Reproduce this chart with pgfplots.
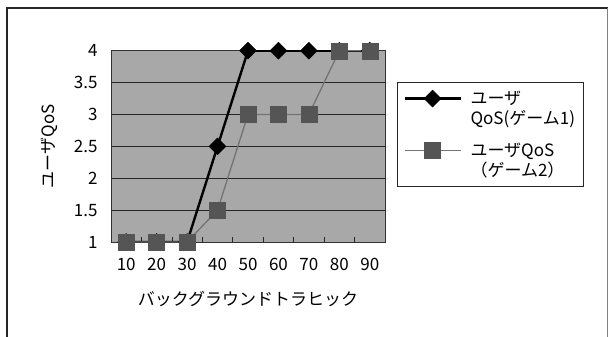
\documentclass[border=0pt]{standalone}
\usepackage{pgfplots}
\pgfplotsset{compat=1.18}
\usepackage{fontspec}
\setmainfont{Noto Sans CJK JP}
\definecolor{bgc}{RGB}{168,168,168}
\definecolor{sqc}{RGB}{85,85,85}
\begin{document}
\begin{tikzpicture}[x=1bp,y=1bp]
\useasboundingbox (0,0) rectangle (609,336);
\draw[line width=1.2bp, black!85] (7,-3) -- (7,328) -- (607.5,328);
\draw[line width=0.6bp, black!50] (607.5,328) -- (607.5,-3);
\begin{axis}[
  at={(111bp,94bp)}, anchor=south west,
  width=274bp, height=191.3bp, scale only axis,
  xmin=-0.5, xmax=8.5, ymin=1, ymax=4,
  xtick={0,1,...,8},
  xticklabels={10,20,30,40,50,60,70,80,90},
  minor xtick={-0.5,0.5,...,8.5},
  ytick={1,1.5,...,4},
  tick pos=left,
  major tick length=0pt,
  minor tick length=5bp,
  tick style={black!85, line width=0.6bp},
  xtick align=inside,
  ymajorgrids,
  grid style={black!85, line width=0.6bp},
  axis line style={black!80, line width=0.6bp},
  axis background/.style={fill=bgc},
  /pgf/number format/assume math mode=true,
  tick label style={font=\fontsize{17bp}{20bp}\selectfont},
  yticklabel style={xshift=-10bp},
  xticklabel style={yshift=-13bp},
  xlabel={バックグラウンドトラヒック},
  ylabel={ユーザQoS},
  every axis x label/.style={at={(axis description cs:0.5,-0.3)}, anchor=center, font=\fontsize{17bp}{20bp}\selectfont},
  every axis y label/.style={at={(axis description cs:-0.225,0.5)}, anchor=center, rotate=90, font=\fontsize{17bp}{20bp}\selectfont},
  legend cell align=left,
  legend style={at={(1.044,0.835)}, anchor=north west,
    draw=black!85, line width=0.6bp, fill=white,
    font=\fontsize{17bp}{20bp}\selectfont,
    cells={align=left}, row sep=12bp, inner xsep=6bp, inner ysep=6bp},
  legend image code/.code={
    \path[draw=none,fill=none] (0bp,-20bp) rectangle (64bp,20bp);
    \draw[mark repeat=2,mark phase=2,#1] plot coordinates {(0bp,10bp)(28bp,10bp)(56bp,10bp)};},
]
\addplot[black, line width=2.4bp, mark=square*, mark size=6bp,
  mark options={rotate=45, fill=black, solid, line width=0.4bp}]
  coordinates {(0,1) (1,1) (2,1) (3,2.5) (4,4) (5,4) (6,4) (7,4) (8,4)};
\addlegendentry{ユーザ\\QoS(ゲーム1)}
\addplot[black!55, line width=1.3bp, mark=square*, mark size=8bp,
  mark options={fill=sqc, draw=sqc, solid, line width=0.4bp}]
  coordinates {(0,1) (1,1) (2,1) (3,1.5) (4,3) (5,3) (6,3) (7,4) (8,4)};
\addlegendentry{ユーザQoS\\（ゲーム2）}
\end{axis}
\end{tikzpicture}
\end{document}
